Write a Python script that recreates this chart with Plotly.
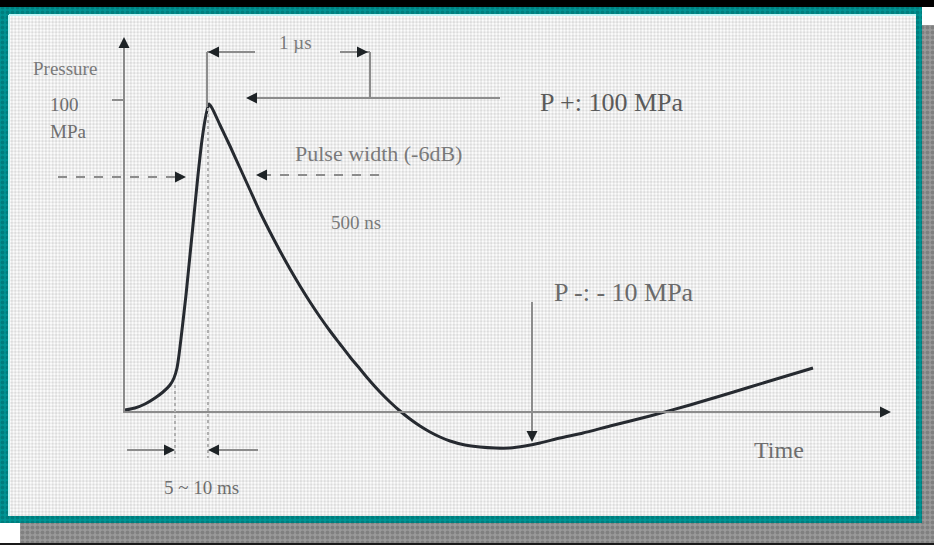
import plotly.graph_objects as go

# ---- data (diagram units: horizontal = time position, vertical = pressure position) ----
curve_t = [125, 135, 145, 155, 163, 170, 174, 177, 179, 182, 186, 190, 194, 198, 202, 206, 209,
           212, 220, 230, 240, 250, 260, 270, 280, 290, 300, 310, 320, 330, 340, 350, 360, 370,
           380, 390, 400, 410, 420, 430, 440, 450, 465, 480, 495, 510, 525, 540, 560, 583, 610,
           650, 690, 717, 750, 783, 813]
curve_p = [410, 408, 404, 398, 392, 385, 378, 368, 355, 330, 295, 255, 215, 175, 140, 115, 104,
           108, 125, 146, 168, 190, 212, 232, 251, 269, 286, 302, 317, 331, 344, 357, 369, 381,
           392, 402, 411, 419, 426, 432, 437, 441, 445, 447, 448, 448, 446, 443, 438, 433, 426,
           416, 405, 397, 387, 377, 368]

label_texts = ["Pressure", "100", "MPa", "1 µs", "P +: 100 MPa", "Pulse width (-6dB)",
               "500 ns", "P -: - 10 MPa", "Time", "5 ~ 10 ms"]
label_x = [65, 64, 68, 295, 611, 378, 356, 624, 779, 201]
label_y = [68, 104, 131, 42, 102, 153, 222, 292, 450, 487]
label_size = [19, 19, 19, 19, 26, 22, 19, 26, 24, 19]
label_color = ["#7a7a7a", "#6e6e6e", "#6e6e6e", "#7a7a7a", "#5a5a5a", "#7a7a7a",
               "#7a7a7a", "#6a6a6a", "#6e6e6e", "#6e6e6e"]

W, H = 934, 545

fig = go.Figure()

def rect_trace(x0, y0, x1, y1, fg, bg, size, solidity):
    return go.Scatter(
        x=[x0, x1, x1, x0, x0], y=[y0, y0, y1, y1, y0], mode="lines",
        line=dict(width=0), fill="toself", fillcolor=bg,
        fillpattern=dict(shape=".", fgcolor=fg, bgcolor=bg, size=size, solidity=solidity),
        hoverinfo="skip", showlegend=False)

# drop shadow (checkered gray)
fig.add_trace(rect_trace(922, 25, 934, 543, "#666666", "#9a9a9a", 5, 0.5))
fig.add_trace(rect_trace(20, 523, 934, 543, "#666666", "#9a9a9a", 5, 0.5))
# teal frame
fig.add_trace(rect_trace(0, 7, 922, 523, "#006666", "#009494", 5, 0.45))
# dotted paper
fig.add_trace(rect_trace(9, 15, 916, 516, "#b9b9b9", "#ffffff", 3.4, 0.55))

# waveform
fig.add_trace(go.Scatter(x=curve_t, y=curve_p, mode="lines",
                         line=dict(color="#262a30", width=3, shape="spline", smoothing=0.6),
                         hoverinfo="skip", showlegend=False))

shapes = []
def seg(x0, y0, x1, y1, color="#8a8a8a", width=2, dash="solid"):
    shapes.append(dict(type="line", x0=x0, y0=y0, x1=x1, y1=y1, xref="x", yref="y",
                       line=dict(color=color, width=width, dash=dash), layer="above"))

# black strips
shapes.append(dict(type="rect", x0=0, y0=0, x1=W, y1=7, xref="x", yref="y",
                   fillcolor="#000000", line=dict(width=0), layer="above"))
shapes.append(dict(type="rect", x0=0, y0=543, x1=W, y1=H, xref="x", yref="y",
                   fillcolor="#1a1a1a", line=dict(width=0), layer="above"))
# light cyan inner edge
seg(9, 15, 9, 516, "#bff4f4", 2)
seg(9, 15, 916, 15, "#bff4f4", 2)

# axes
seg(124, 413, 124, 44, "#8c8c8c", 2)
seg(124, 412, 884, 412, "#8c8c8c", 2.2)
seg(112, 100, 124, 100, "#8c8c8c", 2)
# dotted guides
seg(208, 108, 208, 458, "#b0b0b0", 2, "dot")
seg(175, 385, 175, 458, "#b0b0b0", 2, "dot")
# top dimension
seg(207, 52, 207, 107, "#8c8c8c", 2)
seg(207, 52, 255, 52, "#8c8c8c", 2)
seg(340, 52, 370, 52, "#8c8c8c", 2)
seg(370, 52, 370, 98, "#8c8c8c", 2)
seg(250, 98, 500, 98, "#8c8c8c", 2.2)
# pulse width dashed arrows
seg(58, 177, 180, 177, "#8c8c8c", 2, "dash")
seg(262, 175, 388, 175, "#8c8c8c", 2, "dash")
# 5~10 ms arrows
seg(127, 450, 172, 450, "#8c8c8c", 2)
seg(212, 450, 258, 450, "#8c8c8c", 2)
# P- marker
seg(532, 302, 532, 436, "#8c8c8c", 2)

annotations = []
def head(x, y, dx, dy):
    annotations.append(dict(x=x, y=y, ax=x + dx, ay=y + dy, xref="x", yref="y",
                            axref="x", ayref="y", showarrow=True, arrowhead=2,
                            arrowsize=1.0, arrowwidth=2.2, arrowcolor="#1e2326", text=""))

head(124, 37, 0, 10)      # y axis up
head(891, 412, -10, 0)    # x axis right
head(208, 52, 10, 0)      # 1 us left
head(368, 52, -10, 0)     # 1 us right
head(246, 98, 10, 0)      # P+ arrow left
head(186, 177, -10, 0)    # pulse width right
head(256, 175, 10, 0)     # pulse width left
head(175, 450, -10, 0)    # 5-10 right
head(208, 450, 10, 0)     # 5-10 left
head(532, 442, 0, -10)    # P- down

for t, x, y, s, c in zip(label_texts, label_x, label_y, label_size, label_color):
    annotations.append(dict(x=x, y=y, xref="x", yref="y", text=t, showarrow=False,
                            font=dict(family="Liberation Serif, Times New Roman, serif",
                                      size=s, color=c),
                            xanchor="center", yanchor="middle"))

fig.update_layout(
    width=W, height=H, margin=dict(l=0, r=0, t=0, b=0),
    paper_bgcolor="#ffffff", plot_bgcolor="#ffffff",
    xaxis=dict(range=[0, W], visible=False, fixedrange=True),
    yaxis=dict(range=[H, 0], visible=False, fixedrange=True),
    shapes=shapes, annotations=annotations, showlegend=False,
)

fig.write_html("out.html")
